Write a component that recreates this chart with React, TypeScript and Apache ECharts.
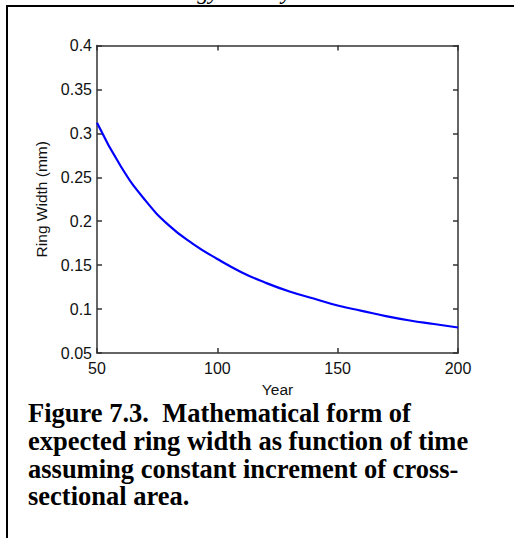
import React, { useEffect, useRef } from "react";
import * as echarts from "echarts";

const years = [50, 60, 70, 80, 90, 100, 110, 120, 130, 140, 150, 160, 170, 180, 190, 200];
const ringWidth = [0.312, 0.262, 0.224, 0.195, 0.174, 0.157, 0.142, 0.130, 0.120, 0.112, 0.104, 0.098, 0.092, 0.087, 0.083, 0.079];
const captionLines = [
  "Figure 7.3.  Mathematical form of",
  "expected ring width as function of time",
  "assuming constant increment of cross-",
  "sectional area.",
];
const headerText = "Dendroecology and Dynamics";

export default function App() {
  const ref = useRef<HTMLDivElement>(null);
  useEffect(() => {
    if (!ref.current) return;
    const chart = echarts.init(ref.current, null, { renderer: "svg" });
    const axisFont = "'Liberation Sans', Arial, sans-serif";
    const axisColor = "#333";
    const common = {
      axisLine: { show: true, lineStyle: { color: axisColor, width: 1.5 } },
      axisTick: { show: true, inside: true, length: 5, lineStyle: { color: axisColor, width: 1.5 } },
      splitLine: { show: false },
    };
    chart.setOption({
      animation: false,
      backgroundColor: "#fff",
      grid: { left: 97, right: 56, top: 45.5, bottom: 185, containLabel: false },
      xAxis: [
        {
          type: "value", min: 50, max: 200, interval: 50, position: "bottom",
          ...common,
          axisLabel: { color: "#111", fontFamily: axisFont, fontSize: 16, margin: 7 },
          name: "Year", nameLocation: "middle", nameGap: 28,
          nameTextStyle: { color: "#111", fontFamily: axisFont, fontSize: 15.5 },
        },
        {
          type: "value", min: 50, max: 200, interval: 50, position: "top",
          ...common, axisLabel: { show: false },
        },
      ],
      yAxis: [
        {
          type: "value", min: 0.05, max: 0.4, interval: 0.05, position: "left",
          ...common,
          axisLabel: {
            color: "#111", fontFamily: axisFont, fontSize: 16, margin: 5,
            formatter: (v: number) => String(+v.toFixed(2)),
          },
          name: "Ring Width (mm)", nameLocation: "middle", nameGap: 47,
          nameTextStyle: { color: "#111", fontFamily: axisFont, fontSize: 15.5 },
        },
        {
          type: "value", min: 0.05, max: 0.4, interval: 0.05, position: "right",
          ...common, axisLabel: { show: false },
        },
      ],
      series: [
        {
          type: "line",
          data: years.map((y, i) => [y, ringWidth[i]]),
          smooth: true,
          showSymbol: false,
          lineStyle: { color: "#0000ff", width: 2.2 },
        },
      ],
      graphic: [
        {
          type: "rect",
          shape: { x: 7, y: 6, width: 600, height: 600 },
          style: { fill: "none", stroke: "#000", lineWidth: 2 },
          silent: true,
        },
        {
          type: "text",
          x: 78, y: 3,
          style: {
            text: headerText,
            font: "italic 23px 'Liberation Serif', 'Times New Roman', serif",
            fill: "#000",
            verticalAlign: "bottom",
          },
        },
        {
          type: "text",
          x: 28, y: 399,
          style: {
            text: captionLines.join("\n"),
            font: "bold 26.5px 'Liberation Serif', 'Times New Roman', serif",
            lineHeight: 27.8,
            fill: "#000",
          },
        },
      ],
    });
    return () => chart.dispose();
  }, []);
  return <div ref={ref} style={{ position: "fixed", left: 0, top: 0, width: 514, height: 538 }} />;
}
